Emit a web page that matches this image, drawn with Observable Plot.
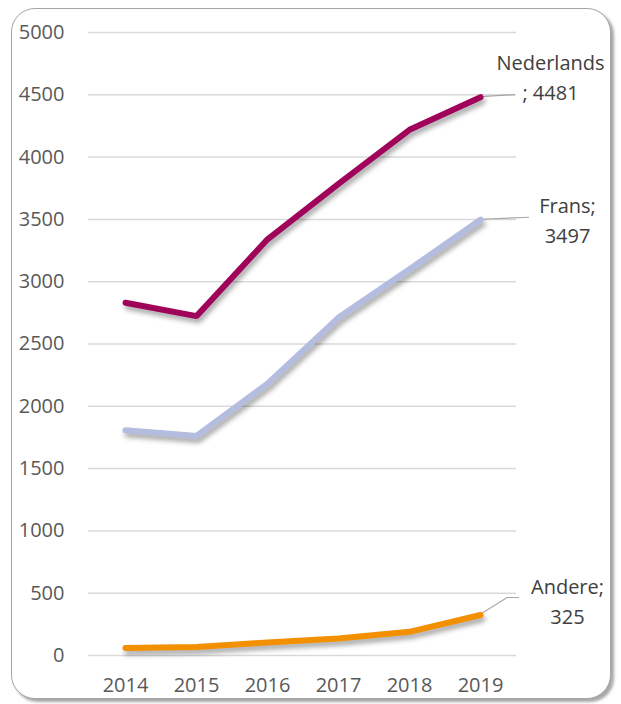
<!DOCTYPE html>
<html>
<head>
<meta charset="utf-8">
<script src="https://cdn.jsdelivr.net/npm/d3@7"></script>
<script src="https://cdn.jsdelivr.net/npm/@observablehq/plot@0.6"></script>
<style>
  html, body { margin: 0; padding: 0; background: #fff; }
  #wrap { position: relative; width: 621px; height: 704px; overflow: hidden; }
  #frame {
    position: absolute; left: 11px; top: 8px; width: 598px; height: 689px;
    border: 1.5px solid #a6a6a6; border-radius: 24px;
    box-shadow: 3px 3px 3px rgba(0,0,0,0.35);
    background: #fff;
  }
  #chart { position: absolute; left: 0; top: 0; }
</style>
</head>
<body>
<div id="wrap"><div id="frame"></div><div id="chart"></div></div>
<script>
const years = ["2014", "2015", "2016", "2017", "2018", "2019"];
const nederlands = [2831, 2724, 3340, 3786, 4219, 4481];
const frans = [1807, 1762, 2182, 2712, 3100, 3497];
const andere = [61, 69, 104, 136, 190, 325];
const seriesNames = ["Nederlands", "Frans", "Andere"];
const seriesColors = ["#a0045a", "#b4bde0", "#f39000"];
const labelTexts = ["Nederlands\n; 4481", "Frans;\n3497", "Andere;\n325"];
const yTicks = [0, 500, 1000, 1500, 2000, 2500, 3000, 3500, 4000, 4500, 5000];

const seriesValues = [nederlands, frans, andere];
const rows = seriesNames.flatMap((name, i) =>
  years.map((year, j) => ({series: name, year, value: seriesValues[i][j]})));
const last = seriesNames.map((name, i) => ({series: name, year: years[years.length - 1], value: seriesValues[i][years.length - 1], label: labelTexts[i]}));

const font = "'Open Sans', sans-serif";
const labelStyle = {fill: "#404040", fontSize: 20, lineHeight: 1.5, textAnchor: "middle"};

const chart = Plot.plot({
  width: 621,
  height: 704,
  marginLeft: 88,
  marginRight: 105,
  marginTop: 32,
  marginBottom: 49,
  style: {fontFamily: font, fontSize: "20px", background: "transparent", overflow: "visible"},
  x: {type: "point", domain: years, padding: 0.5},
  y: {domain: [0, 5000]},
  color: {domain: seriesNames, range: seriesColors},
  marks: [
    Plot.gridY(yTicks, {stroke: "#d9d9d9", strokeOpacity: 1, strokeWidth: 1.5}),
    Plot.axisY(yTicks, {tickSize: 0, tickPadding: 24, fontSize: 20, color: "#595959", label: null, tickFormat: d => String(d)}),
    Plot.axisX({tickSize: 0, tickPadding: 22, fontSize: 20, color: "#595959", label: null}),
    Plot.line(rows, {x: "year", y: "value", z: "series", stroke: "series", strokeWidth: 6, strokeLinecap: "round", strokeLinejoin: "miter"}),
    Plot.text(last.slice(0, 1), {x: "year", y: "value", text: "label", dx: 70, dy: -22, ...labelStyle}),
    Plot.text(last.slice(1, 2), {x: "year", y: "value", text: "label", dx: 87, dy: -1, ...labelStyle}),
    Plot.text(last.slice(2, 3), {x: "year", y: "value", text: "label", dx: 87, dy: -16, ...labelStyle})
  ]
});

document.getElementById("chart").appendChild(chart);

const svg = d3.select(chart);
svg.selectAll('g[aria-label="line"]').style("filter", "drop-shadow(2px 4px 2.5px rgba(0,0,0,0.35))");

// leader lines from end points to labels, positioned through the chart's scales
const xs = chart.scale("x"), ys = chart.scale("y");
const leaderOffsets = [
  [[0, 0], [35, -2]],
  [[0, 0], [49, -2]],
  [[0, 0], [27, -17], [39, -17]]
];
const lg = svg.insert("g", 'g[aria-label="line"]').attr("aria-label", "leaders");
last.forEach((d, i) => {
  const px = xs.apply(d.year), py = ys.apply(d.value);
  lg.append("path")
    .attr("d", d3.line()(leaderOffsets[i].map(([a, b]) => [px + a, py + b])))
    .attr("fill", "none").attr("stroke", "#a6a6a6").attr("stroke-width", 1.2);
});
</script>
</body>
</html>
